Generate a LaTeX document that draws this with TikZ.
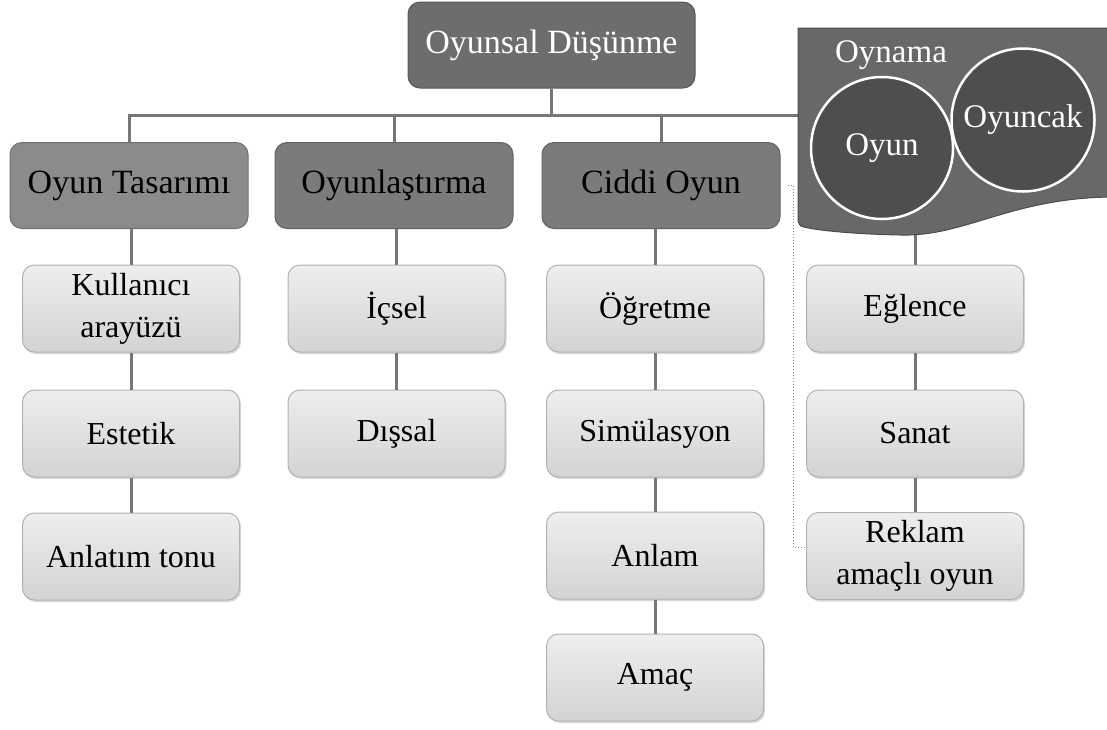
\documentclass[tikz,border=0pt]{standalone}
\usepackage{fontspec}
\setmainfont{Liberation Serif}
\usetikzlibrary{shadows}
\definecolor{topfill}{HTML}{6D6D6D}
\definecolor{otfill}{HTML}{8B8B8B}
\definecolor{midfill}{HTML}{7B7B7B}
\definecolor{bannerfill}{HTML}{686868}
\definecolor{circfill}{HTML}{4E4E4E}
\definecolor{linegray}{HTML}{777777}
\definecolor{boxtop}{HTML}{EEEEEE}
\definecolor{boxbot}{HTML}{D3D3D3}
\definecolor{boxline}{HTML}{B2B2B2}
\tikzset{
  headbox/.style={draw=#1!80!black, fill=#1, rounded corners=12pt, line width=1pt,
    minimum width=238pt, minimum height=86pt, inner sep=0pt,
    font=\fontsize{34}{38}\selectfont, text=black, align=center},
  leafbox/.style={draw=boxline, top color=boxtop, bottom color=boxbot, rounded corners=12pt,
    line width=1pt, minimum width=217pt, minimum height=87pt, inner sep=0pt,
    font=\fontsize{32}{42}\selectfont, align=center,
    drop shadow={shadow xshift=1.5pt, shadow yshift=-2pt, fill=black!30, opacity=.5}},
  conn/.style={draw=linegray, line width=3pt},
  ring/.style={circle, draw=white, line width=2.5pt, fill=circfill, inner sep=0pt,
    minimum size=#1, text=white, font=\fontsize{33}{36}\selectfont},
}
\begin{document}
\begin{tikzpicture}[x=1pt, y=-1pt]
\useasboundingbox (0,0) rectangle (1107,729);

% root and first level
\node[headbox=topfill, minimum width=287pt, text=white] (root) at (551.5,45) {Oyunsal Düşünme};
\node[headbox=otfill] (tasarim) at (129,185.5) {Oyun Tasarımı};
\node[headbox=midfill] (oyunlas) at (394,185.5) {Oyunlaştırma};
\node[headbox=midfill] (ciddi) at (661,185.5) {Ciddi Oyun};

% leaves
\node[leafbox] (kullanici) at (131,308.5) {Kullanıcı\\arayüzü};
\node[leafbox] (estetik) at (131,433.5) {Estetik};
\node[leafbox] (anlatim) at (131,556.5) {Anlatım tonu};

\node[leafbox] (icsel) at (396.5,308.5) {İçsel};
\node[leafbox] (dissal) at (396.5,433.5) {Dışsal};

\node[leafbox] (ogretme) at (655,308.5) {Öğretme};
\node[leafbox] (simulasyon) at (655,433.5) {Simülasyon};
\node[leafbox] (anlam) at (655,555.5) {Anlam};
\node[leafbox] (amac) at (655,677.5) {Amaç};

\node[leafbox] (eglence) at (915,308.5) {Eğlence};
\node[leafbox] (sanat) at (915,433.5) {Sanat};
\node[leafbox] (reklam) at (915,556) {Reklam\\amaçlı oyun};

% bus
\coordinate (busL) at (128,115);
\coordinate (busR) at (800,115);
\coordinate (bannerfoot) at (915,225);
\draw[conn] (busL) -- (busR);
\draw[conn] (root.south) -- (root.south |- busL);
\draw[conn] (tasarim.north) -- (tasarim.north |- busL);
\draw[conn] (oyunlas.north) -- (oyunlas.north |- busL);
\draw[conn] (ciddi.north) -- (ciddi.north |- busL);

% vertical chains
\draw[conn] (tasarim.south -| kullanici.north) -- (kullanici.north);
\draw[conn] (kullanici) -- (estetik);
\draw[conn] (estetik) -- (anlatim);
\draw[conn] (oyunlas.south -| icsel.north) -- (icsel.north);
\draw[conn] (icsel) -- (dissal);
\draw[conn] (ciddi.south -| ogretme.north) -- (ogretme.north);
\draw[conn] (ogretme) -- (simulasyon);
\draw[conn] (simulasyon) -- (anlam);
\draw[conn] (anlam) -- (amac);
\draw[conn] (bannerfoot) -- (eglence.north);
\draw[conn] (eglence) -- (sanat);
\draw[conn] (sanat) -- (reklam);

% dotted link from Ciddi Oyun to Reklam
\draw[draw=black!45, line width=1pt, dotted]
  ([xshift=7pt]ciddi.east) -- ([xshift=13pt]ciddi.east) |- ([yshift=9pt]reklam.west);

% banner with wavy lower edge
\fill[bannerfill, draw=black!70, line width=1pt]
  (798,28) -- (1112,28) -- (1112,197)
  .. controls (1010,198) and (965,237) .. (900,235)
  .. controls (850,234) and (815,230) .. (804,227)
  .. controls (800,226) .. (798,221) -- cycle;
\node[text=white, font=\fontsize{33}{36}\selectfont] (oynama) at (891,55) {Oynama};
\node[ring=142pt] (oyun) at (882,148) {Oyun};
\node[ring=143pt] (oyuncak) at (1023,120) {Oyuncak};
\end{tikzpicture}
\end{document}
